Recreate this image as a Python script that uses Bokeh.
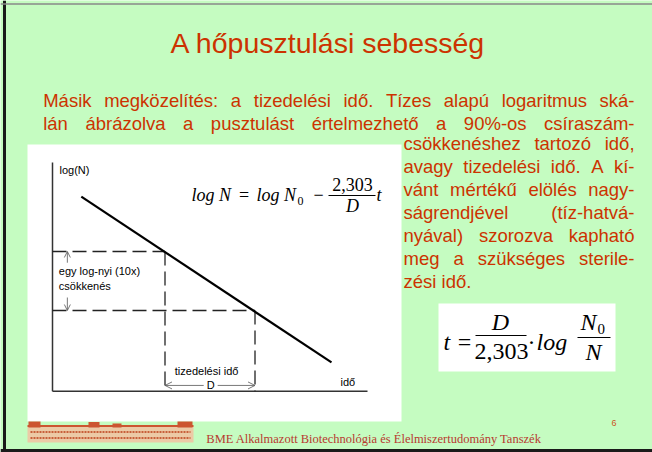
import glob
from bokeh.plotting import figure
from bokeh.models import Range1d, Arrow, OpenHead, ColumnDataSource
from bokeh.core.properties import value
from bokeh.embed import file_html
from bokeh.resources import INLINE

# ---------------- data ----------------
title_text = "A hőpusztulási sebesség"
intro_lines = [
    "Másik megközelítés: a tizedelési idő. Tízes alapú logaritmus ská-",
    "lán ábrázolva a pusztulást értelmezhető a 90%-os csíraszám-",
]
column_lines = [
    "csökkenéshez tartozó idő,",
    "avagy tizedelési idő. A kí-",
    "vánt mértékű elölés nagy-",
    "ságrendjével (tíz-hatvá-",
    "nyával) szorozva kapható",
    "meg a szükséges sterile-",
    "zési idő.",
]
footer_text = "BME Alkalmazott Biotechnológia és Élelmiszertudomány Tanszék"
page_number = "6"

# schematic inactivation curve (time units, log N)
axis_t = [0.0, 7.0]
axis_logN = [2.63, 6.51]
line_t = [0.64, 6.2]
line_logN = [5.93, 3.12]
decade_t = [2.5, 4.5]          # t where log N drops by one decade (D = 2)
decade_logN = [5.0, 4.0]
arrow_t = 0.33                 # position of the vertical "10x" arrows
arrow_from_logN = [4.81, 4.22]
arrow_to_logN = [5.0, 4.0]
d_arrow_logN = 2.73
d_arrow_from_t = [3.36, 3.67]
d_arrow_to_t = [2.5, 4.5]

# ---------------- layout ----------------
W, H = 652, 452
X0, X1, Y0, Y1 = 0, W, H, 0          # page pixel coordinates (top-left origin)
GREEN = "#c5fcc1"
RED = "#cc3300"
SHIFT = 0.37                          # baseline correction (fraction of font size)

p = figure(width=W, height=H, x_range=Range1d(X0, X1), y_range=Range1d(Y0, Y1),
           output_backend="svg", toolbar_location=None, min_border=0)
p.axis.visible = False
p.grid.visible = False
p.outline_line_color = None
p.background_fill_color = GREEN
p.border_fill_color = GREEN

# inner chart scales: t=0 at px 52, 45 px/unit; logN=4 at py 310, 59 px/unit
TX0, TXS = 52.0, 45.0
LY0, LYS = 310.0, 59.0
p.extra_x_ranges = {"t": Range1d((X0 - TX0) / TXS, (X1 - TX0) / TXS)}
p.extra_y_ranges = {"logN": Range1d(4 - (Y0 - LY0) / LYS, 4 - (Y1 - LY0) / LYS)}
RN = dict(x_range_name="t", y_range_name="logN")


def find_font(name):
    for root in ["/usr/share/fonts", "/usr/local/share/fonts", "/usr/share"]:
        hits = glob.glob(root + "/**/" + name, recursive=True)
        if hits:
            return hits[0]
    return None


BODY = 18.5
try:
    from PIL import ImageFont
    _fp = find_font("LiberationSans-Regular.ttf")
    _font = ImageFont.truetype(_fp, BODY) if _fp else None
except Exception:
    _font = None


def measure(s):
    if _font is not None:
        return _font.getlength(s)
    return len(s) * 0.49 * BODY


def bl(y, size):
    return y - SHIFT * size


def justify(lines, left, right, y0, dy, last_left=False):
    xs, ys, ts = [], [], []
    for i, ln in enumerate(lines):
        y = bl(y0 + i * dy, BODY)
        words = ln.split(" ")
        if (last_left and i == len(lines) - 1) or len(words) == 1:
            xs.append(left); ys.append(y); ts.append(ln)
            continue
        widths = [measure(w) for w in words]
        gap = max((right - left - sum(widths)) / (len(words) - 1), 0.25 * BODY)
        x = left
        for w, wd in zip(words, widths):
            xs.append(x); ys.append(y); ts.append(w)
            x += wd + gap
    return dict(x=xs, y=ys, text=ts)


SANS = value("Liberation Sans")
SERIF = value("Liberation Serif")
TB = dict(text_baseline="alphabetic")

# title
p.text(x=[170], y=[bl(53.3, 28)], text=[title_text], text_font=SANS,
       text_font_size="28.5px", text_color=RED, text_align="left", **TB)

# white chart panel and formula panel
p.quad(left=[27, 438], right=[401, 615], top=[144, 303], bottom=[421, 371],
       fill_color="white", line_color=None)

# body text
src1 = ColumnDataSource(justify(intro_lines, 42.7, 634, 107.3, 22.8))
p.text(x="x", y="y", text="text", source=src1, text_font=SANS,
       text_font_size=f"{BODY}px", text_color=RED, text_align="left", **TB)
src2 = ColumnDataSource(justify(column_lines, 403, 634, 149.5, 23.1, last_left=True))
p.text(x="x", y="y", text="text", source=src2, text_font=SANS,
       text_font_size=f"{BODY}px", text_color=RED, text_align="left", **TB)

# ---- inner chart ----
p.line(x=[axis_t[0], axis_t[0]], y=[axis_logN[0], axis_logN[1]], line_color="#333333",
       line_width=1.5, **RN)
p.line(x=[axis_t[0], axis_t[1]], y=[axis_logN[0], axis_logN[0]], line_color="#333333",
       line_width=1.5, **RN)
p.multi_line(xs=[[axis_t[0], t] for t in decade_t], ys=[[l, l] for l in decade_logN],
             line_color="#222222", line_width=1.3, line_dash="14 6", **RN)
p.multi_line(xs=[[t, t] for t in decade_t], ys=[[l, axis_logN[0]] for l in decade_logN],
             line_color="#222222", line_width=1.3, line_dash="14 6", **RN)
p.line(x=line_t, y=line_logN, line_color="black", line_width=2.2, **RN)

for a0, a1 in zip(arrow_from_logN, arrow_to_logN):
    p.add_layout(Arrow(end=OpenHead(size=6, line_width=0.8, line_color="#555555"),
                       x_start=arrow_t, y_start=a0, x_end=arrow_t, y_end=a1,
                       line_width=0.8, line_color="#555555", **RN))
for t0, t1 in zip(d_arrow_from_t, d_arrow_to_t):
    p.add_layout(Arrow(end=OpenHead(size=7, line_width=0.8, line_color="#555555"),
                       x_start=t0, y_start=d_arrow_logN, x_end=t1, y_end=d_arrow_logN,
                       line_width=0.8, line_color="#555555", **RN))

small = dict(text_font=SANS, text_font_size="11px", text_color="black", **TB)
p.text(x=[59, 58.3, 58.3, 174.3, 340],
       y=[bl(v, 11) for v in [174, 275, 290, 374.3, 386]],
       text=["log(N)", "egy log-nyi (10x)", "csökkenés", "tizedelési idő", "idő"],
       text_align="left", **small)
p.text(x=[210.3], y=[bl(389, 11)], text=["D"], text_align="center", **small)

# equation 1
eq = dict(text_color="black", **TB)
p.text(x=[191, 256], y=[bl(201, 18)] * 2, text=["log N", "log N"], text_font=SERIF,
       text_font_style="italic", text_font_size="18px", text_align="left", **eq)
p.text(x=[243.5, 318], y=[bl(201, 18)] * 2, text=["=", "−"], text_font=SERIF,
       text_font_size="18px", text_align="center", **eq)
p.text(x=[297], y=[bl(205, 12)], text=["0"], text_font=SERIF, text_font_size="12px",
       text_align="left", **eq)
p.segment(x0=[328], y0=[195], x1=[375], y1=[195], line_color="black", line_width=1)
p.text(x=[352], y=[bl(191, 18)], text=["2,303"], text_font=SERIF, text_font_size="18px",
       text_align="center", **eq)
p.text(x=[352], y=[bl(212, 18)], text=["D"], text_font=SERIF, text_font_style="italic",
       text_font_size="18px", text_align="center", **eq)
p.text(x=[376], y=[bl(201, 18)], text=["t"], text_font=SERIF, text_font_style="italic",
       text_font_size="18px", text_align="left", **eq)

# equation 2
p.text(x=[443, 536], y=[bl(350, 24)] * 2, text=["t", "log"], text_font=SERIF,
       text_font_style="italic", text_font_size="24px", text_align="left", **eq)
p.text(x=[464, 531], y=[bl(350, 24)] * 2, text=["=", "·"], text_font=SERIF,
       text_font_size="24px", text_align="center", **eq)
p.segment(x0=[475, 577], y0=[335, 337], x1=[526, 610], y1=[335, 337],
          line_color="black", line_width=1.2)
p.text(x=[500, 593], y=[bl(330, 24), bl(360, 24)], text=["D", "N"], text_font=SERIF,
       text_font_style="italic", text_font_size="24px", text_align="center", **eq)
p.text(x=[501], y=[bl(360, 24)], text=["2,303"], text_font=SERIF, text_font_size="24px",
       text_align="center", **eq)
p.text(x=[580], y=[bl(330, 24)], text=["N"], text_font=SERIF, text_font_style="italic",
       text_font_size="24px", text_align="left", **eq)
p.text(x=[597], y=[bl(334, 15)], text=["0"], text_font=SERIF, text_font_size="15px",
       text_align="left", **eq)

# footer: stylised building logo
p.quad(left=[27], right=[193], top=[426], bottom=[442], fill_color="#eccaa6",
       line_color=None)
p.quad(left=[27, 28, 88, 112, 177], right=[193, 40, 99, 121, 192],
       top=[424.5, 421, 421.5, 423, 421], bottom=[426.5, 427, 427, 427, 427],
       fill_color="#cc5530", line_color=None)
p.multi_line(xs=[[30, 190], [30, 190]], ys=[[431.5, 431.5], [437.5, 437.5]],
             line_color="#c8603a", line_width=2, line_dash="2 1")
p.text(x=[205.8], y=[bl(443, 12.5)], text=[footer_text], text_font=SERIF,
       text_font_size="12.5px", text_color="#b83a30", text_align="left", **TB)
p.text(x=[611], y=[bl(426, 9)], text=[page_number], text_font=SANS, text_font_size="9px",
       text_color="#cc5522", text_align="left", **TB)

# slide frame edges
p.segment(x0=[4, 0], y0=[0, 450], x1=[4, 652], y1=[452, 450], line_color="#1a1a1a",
          line_width=3)
p.segment(x0=[0], y0=[3.5], x1=[652], y1=[3.5], line_color="#888888", line_width=1.5)

open("out.html", "w").write(file_html(p, INLINE))
